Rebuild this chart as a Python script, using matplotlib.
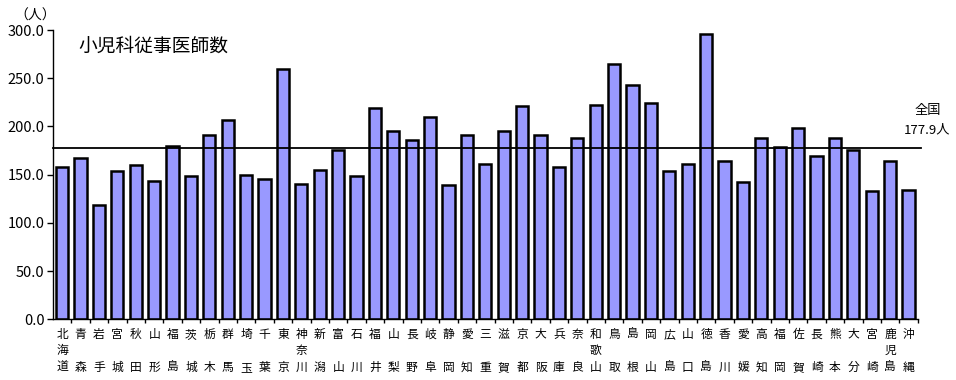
import matplotlib
matplotlib.use("Agg")
from matplotlib import pyplot as plt

plt.rcParams['font.family'] = ['Noto Sans CJK JP', 'DejaVu Sans']

prefs = ["北海道", "青森", "岩手", "宮城", "秋田", "山形", "福島", "茨城", "栃木", "群馬",
         "埼玉", "千葉", "東京", "神奈川", "新潟", "富山", "石川", "福井", "山梨", "長野",
         "岐阜", "静岡", "愛知", "三重", "滋賀", "京都", "大阪", "兵庫", "奈良", "和歌山",
         "鳥取", "島根", "岡山", "広島", "山口", "徳島", "香川", "愛媛", "高知", "福岡",
         "佐賀", "長崎", "熊本", "大分", "宮崎", "鹿児島", "沖縄"]
doctors = [158.2, 167.6, 118.5, 153.8, 160.0, 143.4, 179.7, 148.6, 191.1, 206.7,
           150.0, 145.5, 259.5, 140.6, 154.8, 175.5, 148.9, 219.4, 195.3, 185.9,
           210.1, 139.6, 191.1, 161.4, 195.3, 221.2, 191.1, 158.2, 188.3, 222.2,
           265.0, 242.9, 224.0, 153.8, 161.4, 296.1, 164.5, 142.7, 188.3, 179.0,
           198.7, 169.6, 188.3, 175.5, 133.0, 164.5, 134.4]
national = 177.9
yticks = [0, 50, 100, 150, 200, 250, 300]


def stack(name):
    # 2文字の県名は上下に、3文字は縦に並べる
    if len(name) == 2:
        return name[0] + "\n\n" + name[1]
    return "\n".join(name)


fig = plt.figure(figsize=(9.56, 3.8), dpi=100)
ax = fig.add_axes([0.0554, 0.1597, 0.9046, 0.7613])

x = list(range(len(prefs)))
ax.bar(x, doctors, width=0.66, color='#9999FF', edgecolor='black', linewidth=1.8, zorder=2)
ax.plot([-0.5, len(prefs) - 0.3], [national, national], color='black', lw=1.3,
        clip_on=False, zorder=3)

ax.set_xlim(-0.5, len(prefs) - 0.5)
ax.set_ylim(0, 300)
ax.set_yticks(yticks)
ax.set_yticklabels(["%.1f" % v for v in yticks], fontsize=10.5)
ax.tick_params(axis='y', direction='out', length=4, width=1, pad=2)

ax.set_xticks(x)
ax.set_xticklabels([stack(p) for p in prefs], fontsize=8.5, linespacing=1.35, va='top')
ax.tick_params(axis='x', length=0, pad=6)
ax.set_xticks([i + 0.5 for i in x], minor=True)
ax.tick_params(axis='x', which='minor', direction='out', length=3, width=1)

for s in ['top', 'right']:
    ax.spines[s].set_visible(False)
ax.spines['left'].set_linewidth(1)
ax.spines['bottom'].set_linewidth(1)

ax.text(0.029, 0.945, "小児科従事医師数", transform=ax.transAxes, fontsize=13.5,
        ha='left', va='center')
fig.text(0.037, 0.958, "（人）", fontsize=10, ha='center', va='center')
fig.text(0.97, 0.71, "全国", fontsize=9.5, ha='center', va='center')
fig.text(0.97, 0.658, "177.9人", fontsize=9.5, ha='center', va='center')

fig.savefig("out.png", dpi=100)
